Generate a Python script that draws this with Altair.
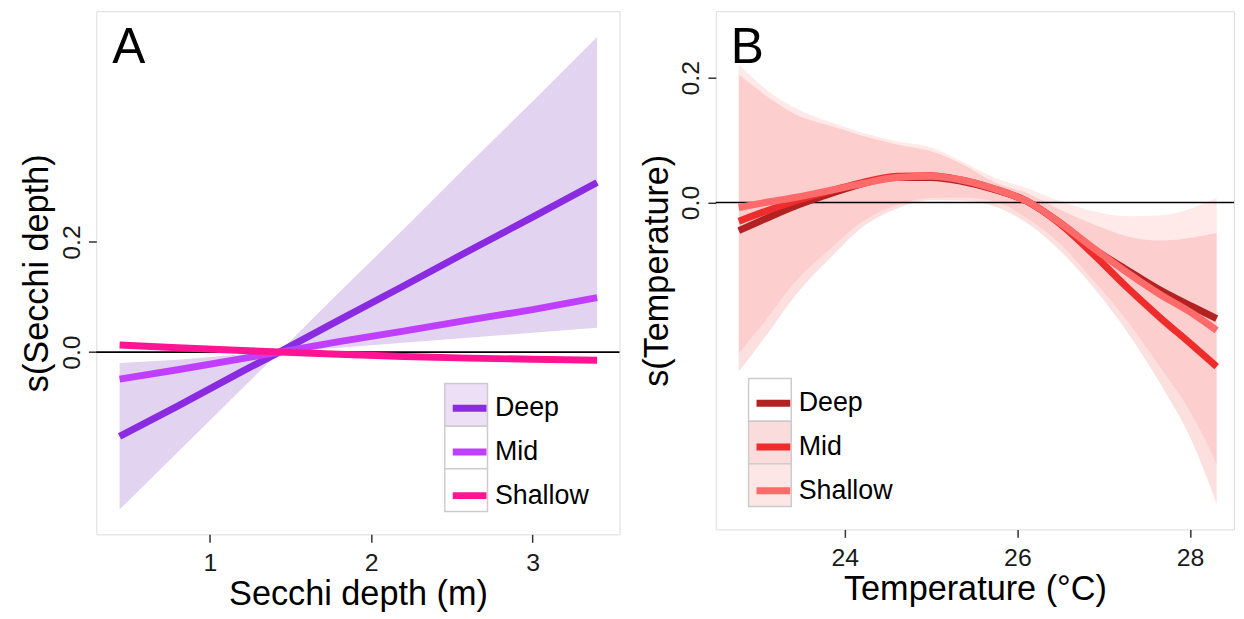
import altair as alt
import pandas as pd

SERIES = ["Deep", "Mid", "Shallow"]
FONT = "Liberation Sans"

# ---------------- Panel A : Secchi depth ----------------
secchi = [0.44, 0.8, 1.2, 1.43, 1.8, 2.2, 2.6, 3.0, 3.40]
a_deep = [-0.153, -0.098, -0.035, 0.0, 0.058, 0.120, 0.183, 0.245, 0.308]
a_mid = [-0.049, -0.032, -0.012, 0.0, 0.019, 0.038, 0.058, 0.077, 0.099]
a_shallow = [0.013, 0.008, 0.003, 0.0, -0.004, -0.008, -0.011, -0.013, -0.015]
a_deep_lo = [-0.286, -0.182, -0.066, 0.0, 0.008, 0.017, 0.026, 0.035, 0.044]
a_deep_hi = [-0.020, -0.014, -0.004, 0.0, 0.108, 0.223, 0.340, 0.455, 0.572]

# ---------------- Panel B : Temperature ----------------
temp = [22.77, 23.08, 23.42, 23.85, 24.2, 24.6, 25.0, 25.35, 25.73, 26.11,
        26.5, 26.88, 27.27, 27.65, 28.03, 28.31]
b_deep = [-0.045, -0.026, -0.006, 0.015, 0.030, 0.040, 0.040, 0.034, 0.021, 0.002,
          -0.033, -0.074, -0.108, -0.140, -0.167, -0.186]
b_mid = [-0.030, -0.014, 0.002, 0.019, 0.032, 0.042, 0.043, 0.036, 0.022, 0.002,
         -0.035, -0.083, -0.136, -0.184, -0.229, -0.263]
b_shallow = [-0.008, 0.000, 0.008, 0.020, 0.030, 0.040, 0.042, 0.036, 0.022, 0.002,
             -0.033, -0.073, -0.112, -0.147, -0.178, -0.205]
b_mid_lo = [-0.271, -0.215, -0.150, -0.086, -0.040, -0.010, 0.004, 0.003, -0.006, -0.033,
            -0.078, -0.136, -0.207, -0.289, -0.385, -0.483]
b_mid_hi = [0.205, 0.172, 0.142, 0.122, 0.107, 0.093, 0.082, 0.062, 0.033, 0.015,
            -0.012, -0.035, -0.054, -0.061, -0.056, -0.049]
b_sh_lo = [-0.242, -0.189, -0.128, -0.072, -0.031, -0.004, 0.007, 0.008, 0.002, -0.025,
           -0.067, -0.125, -0.189, -0.263, -0.342, -0.419]
b_sh_hi = [0.221, 0.182, 0.152, 0.128, 0.112, 0.098, 0.088, 0.066, 0.040, 0.023,
           0.002, -0.014, -0.022, -0.021, -0.009, 0.008]

A_LINE_COLORS = ["#8A2BE2", "#BF3EFF", "#FF1493"]
A_BAND_COLORS = {"Deep": "#e2d4f0"}
A_KEY_COLORS = ["#ecdff6", "#ffffff", "#ffffff"]
B_LINE_COLORS = ["#B22222", "#EE2C2C", "#FF6A6A"]
B_BAND_COLORS = {"Mid": "#EE2C2C", "Shallow": "#FF6A6A"}
B_KEY_COLORS = ["#ffffff", "#fadcdc", "#fde6e6"]


def lines_df(xs, curves):
    rows = []
    for s, vals in zip(SERIES, curves):
        for x, v in zip(xs, vals):
            rows.append({"series": s, "x": x, "y": v})
    return pd.DataFrame(rows)


def band_df(xs, bands, colors):
    rows = []
    for s, (lo, hi) in bands.items():
        for x, l, h in zip(xs, lo, hi):
            rows.append({"series": s, "x": x, "lo": l, "hi": h, "col": colors[s]})
    return pd.DataFrame(rows)


AX = dict(domain=False, grid=False, tickColor="#333333", tickSize=8, tickWidth=1.5,
          labelFont=FONT, labelFontSize=25, labelColor="#1a1a1a",
          titleFont=FONT, titleFontSize=34.5, titleFontWeight="normal", titleColor="#000000")

KEY = 43  # legend key box size (px)
SYM = 34  # legend line length (px)


def panel(xs, curves, bands, xdom, xticks, xtitle, ydom, ytitle,
          line_colors, band_colors, key_colors, band_opacity, interp,
          keyx, keyy, letter, letter_x, width, height):
    xenc = alt.X("x:Q", scale=alt.Scale(domain=xdom, nice=False, zero=False),
                 axis=alt.Axis(values=xticks, format="d", title=xtitle,
                               labelPadding=8, titlePadding=3, **AX))
    yaxis = alt.Axis(values=[0.0, 0.2], format=".1f", title=ytitle, labelAngle=270,
                     labelAlign="center", labelBaseline="bottom", labelPadding=4,
                     titlePadding=5, **AX)
    yscale = alt.Scale(domain=ydom, nice=False, zero=False)

    area = alt.Chart(band_df(xs, bands, band_colors)).mark_area(
        fillOpacity=band_opacity, interpolate=interp
    ).encode(
        x=xenc,
        y=alt.Y("lo:Q", scale=yscale, axis=yaxis),
        y2="hi:Q",
        fill=alt.Fill("col:N", scale=None),
        detail="series:N",
    )

    zero = alt.Chart(pd.DataFrame({"y": [0.0]})).mark_rule(
        color="#000000", strokeWidth=1.6
    ).encode(y=alt.Y("y:Q", scale=yscale, axis=yaxis))

    half = (KEY - SYM) / 2
    lines = alt.Chart(lines_df(xs, curves)).mark_line(
        strokeWidth=7, interpolate=interp, strokeCap="butt"
    ).encode(
        x=xenc,
        y=alt.Y("y:Q", scale=yscale, axis=yaxis),
        stroke=alt.Stroke(
            "series:N", scale=alt.Scale(domain=SERIES, range=line_colors),
            legend=alt.Legend(orient="none", legendX=keyx, legendY=keyy + half, title=None,
                              symbolType="stroke", symbolSize=SYM * SYM,
                              symbolStrokeWidth=7, symbolOffset=half,
                              labelOffset=5, rowPadding=KEY - SYM, padding=0,
                              labelFont=FONT, labelFontSize=27, labelColor="#000000",
                              direction="vertical")),
    )

    lab = alt.Chart(pd.DataFrame({"t": [letter]})).mark_text(
        font=FONT, fontSize=50, align="left", baseline="alphabetic", color="#000000"
    ).encode(text="t:N", x=alt.value(letter_x), y=alt.value(52))

    main = alt.layer(area, zero, lines, lab)

    # grey-bordered legend key boxes (one per series), stacked by a band scale
    keys = alt.Chart(pd.DataFrame({"series": SERIES, "col": key_colors})).mark_rect(
        stroke="#cccccc", strokeWidth=1.5
    ).encode(
        y=alt.Y("series:N", axis=None,
                scale=alt.Scale(domain=SERIES, range=[keyy, keyy + 3 * KEY],
                                paddingInner=0, paddingOuter=0)),
        x=alt.value(keyx), x2=alt.value(keyx + KEY),
        fill=alt.Fill("col:N", scale=None),
    )

    return alt.layer(keys, main).resolve_scale(y="independent").properties(
        width=width, height=height)


panelA = panel(
    secchi, [a_deep, a_mid, a_shallow], {"Deep": (a_deep_lo, a_deep_hi)},
    [0.296, 3.539], [1, 2, 3], "Secchi depth (m)",
    [-0.331, 0.619], "s(Secchi depth)",
    A_LINE_COLORS, A_BAND_COLORS, A_KEY_COLORS, 1.0, "linear",
    351, 375, "A", 16, 527, 527)

panelB = panel(
    temp, [b_deep, b_mid, b_shallow],
    {"Mid": (b_mid_lo, b_mid_hi), "Shallow": (b_sh_lo, b_sh_hi)},
    [22.504, 28.511], [24, 26, 28], "Temperature (°C)",
    [-0.524, 0.3066], "s(Temperature)",
    B_LINE_COLORS, B_BAND_COLORS, B_KEY_COLORS, 0.15, "monotone",
    33, 370, "B", 15, 522, 522)

chart = alt.hconcat(panelA, panelB, spacing=97, bounds="flush").resolve_scale(
    x="independent", y="independent", stroke="independent"
).configure_view(
    fill="#f2f2f2", stroke="#9e9e9e", strokeWidth=1.5
).configure(
    background="#ffffff"
).properties(
    padding={"left": 11, "top": 0, "right": 0, "bottom": 0}
)

chart.save("out.html", embed_options={"renderer": "svg", "actions": False})
